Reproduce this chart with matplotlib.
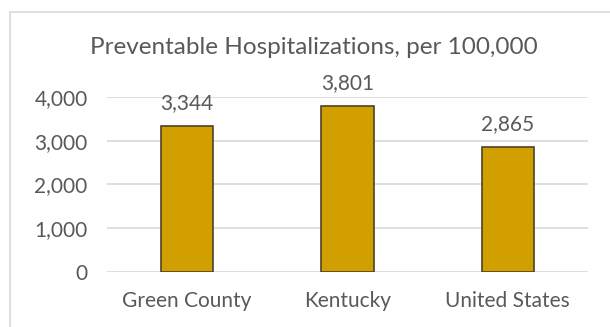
import matplotlib.pyplot as plt
from matplotlib.patches import Rectangle

categories = ["Green County", "Kentucky", "United States"]
values = [3344, 3801, 2865]
y_ticks = [0, 1000, 2000, 3000, 4000]

plt.rcParams['font.family'] = ['Lato', 'DejaVu Sans']
text_color = '#595959'

fig = plt.figure(figsize=(6.1, 3.27), dpi=100)
fig.patch.set_facecolor('white')

# chart frame, open to the right and bottom
fig.patches.append(Rectangle((10 / 610, -0.1), 1.1, 1 - 12 / 327 + 0.1,
                             transform=fig.transFigure, fill=False,
                             edgecolor='#d9d9d9', linewidth=1.2))

ax = fig.add_axes([107 / 610, 1 - 272 / 327, (588 - 107) / 610, (272 - 97) / 327])
x = range(len(categories))
bars = ax.bar(x, values, width=0.325, color='#D29F00', edgecolor='#4d4326',
              linewidth=1.2, zorder=3)

for b, v in zip(bars, values):
    ax.annotate(f"{v:,}", (b.get_x() + b.get_width() / 2, v),
                xytext=(0, 9), textcoords='offset points', ha='center',
                va='bottom', fontsize=15, color=text_color)

ax.set_xlim(-0.5, 2.5)
ax.set_ylim(0, 4000)
ax.set_yticks(y_ticks)
ax.set_yticklabels([f"{t:,}" for t in y_ticks])
ax.set_xticks(list(x))
ax.set_xticklabels(categories)
ax.tick_params(axis='both', length=0, labelsize=15, colors=text_color)
ax.tick_params(axis='y', pad=14)
ax.tick_params(axis='x', pad=14)
ax.grid(axis='y', color='#d9d9d9', linewidth=1.2, zorder=0)
for s in ax.spines.values():
    s.set_visible(False)

fig.text(314 / 610, 1 - 48 / 327, "Preventable Hospitalizations, per 100,000",
         ha='center', va='center', fontsize=17.5, color=text_color)

fig.savefig('out.png', dpi=100)
